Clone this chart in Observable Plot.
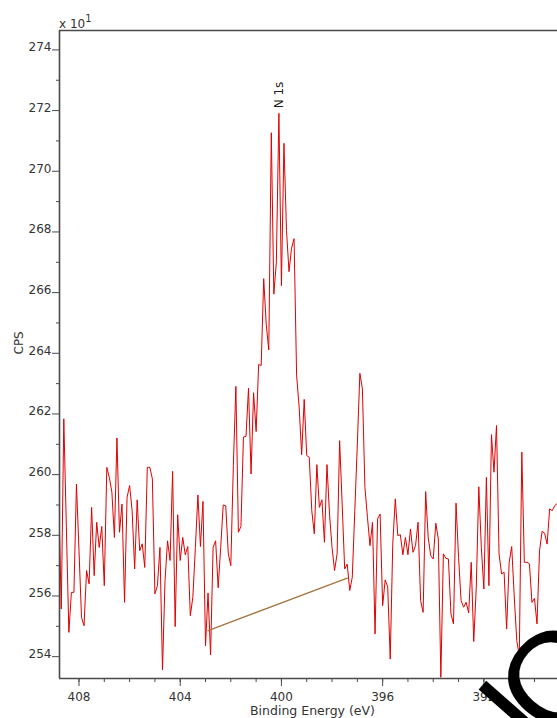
<!DOCTYPE html>
<html>
<head>
<meta charset="utf-8">
<script src="https://cdn.jsdelivr.net/npm/d3@7"></script>
<script src="https://cdn.jsdelivr.net/npm/@observablehq/plot@0.6"></script>
<style>
  html, body { margin: 0; padding: 0; background: #fff; }
  #chart { position: relative; width: 557px; height: 718px; overflow: hidden; }
</style>
</head>
<body>
<div id="chart"></div>
<script>
// N 1s region scan: binding energy (eV) and counts per second (in units of 10 CPS)
const energy = [
  408.8, 408.7, 408.6, 408.5, 408.4, 408.3, 408.2, 408.1, 408.0, 407.9,
  407.8, 407.7, 407.6, 407.5, 407.4, 407.3, 407.2, 407.1, 407.0, 406.9,
  406.8, 406.7, 406.6, 406.5, 406.4, 406.3, 406.2, 406.1, 406.0, 405.9,
  405.8, 405.7, 405.6, 405.5, 405.4, 405.3, 405.2, 405.1, 405.0, 404.9,
  404.8, 404.7, 404.6, 404.5, 404.4, 404.3, 404.2, 404.1, 404.0, 403.9,
  403.8, 403.7, 403.6, 403.5, 403.4, 403.3, 403.2, 403.1, 403.0, 402.9,
  402.8, 402.7, 402.6, 402.5, 402.4, 402.3, 402.2, 402.1, 402.0, 401.9,
  401.8, 401.7, 401.6, 401.5, 401.4, 401.3, 401.2, 401.1, 401.0, 400.9,
  400.8, 400.7, 400.6, 400.5, 400.4, 400.3, 400.2, 400.1, 400.0, 399.9,
  399.8, 399.7, 399.6, 399.5, 399.4, 399.3, 399.2, 399.1, 399.0, 398.9,
  398.8, 398.7, 398.6, 398.5, 398.4, 398.3, 398.2, 398.1, 398.0, 397.9,
  397.8, 397.7, 397.6, 397.5, 397.4, 397.3, 397.2, 397.1, 397.0, 396.9,
  396.8, 396.7, 396.6, 396.5, 396.4, 396.3, 396.2, 396.1, 396.0, 395.9,
  395.8, 395.7, 395.6, 395.5, 395.4, 395.3, 395.2, 395.1, 395.0, 394.9,
  394.8, 394.7, 394.6, 394.5, 394.4, 394.3, 394.2, 394.1, 394.0, 393.9,
  393.8, 393.7, 393.6, 393.5, 393.4, 393.3, 393.2, 393.1, 393.0, 392.9,
  392.8, 392.7, 392.6, 392.5, 392.4, 392.3, 392.2, 392.1, 392.0, 391.9,
  391.8, 391.7, 391.6, 391.5, 391.4, 391.3, 391.2, 391.1, 391.0, 390.9,
  390.8, 390.7, 390.6, 390.5, 390.4, 390.3, 390.2, 390.1, 390.0, 389.9,
  389.8, 389.7, 389.6, 389.5, 389.4, 389.3, 389.2, 389.1
];
const cps = [
  259.25, 255.57, 261.84, 258.30, 254.80, 256.12, 256.12, 259.69, 257.50, 255.30,
  255.02, 256.84, 256.40, 258.92, 256.67, 258.43, 257.60, 258.29, 256.34, 260.24,
  259.90, 259.42, 257.93, 261.21, 258.10, 259.03, 255.79, 259.25, 259.64, 258.81,
  256.89, 259.17, 257.49, 257.72, 256.94, 260.24, 260.24, 259.86, 256.07, 256.34,
  257.60, 253.56, 256.51, 257.82, 257.17, 260.11, 254.99, 258.68, 257.17, 257.93,
  257.36, 257.63, 255.35, 255.96, 257.60, 259.33, 257.63, 259.12, 254.36, 256.10,
  254.06, 257.60, 257.82, 256.27, 257.60, 259.00, 258.97, 257.40, 257.00, 260.30,
  262.91, 258.10, 258.29, 261.24, 261.26, 262.85, 260.02, 262.70, 261.42, 263.63,
  263.60, 266.46, 264.95, 264.11, 271.27, 265.95, 267.00, 271.91, 266.23, 270.92,
  268.05, 266.69, 267.46, 267.78, 263.28, 262.23, 260.66, 262.48, 260.63, 260.57,
  258.81, 258.05, 260.33, 258.92, 259.17, 257.77, 260.33, 258.70, 257.60, 256.84,
  257.39, 261.12, 259.03, 256.89, 257.05, 256.18, 256.62, 258.81, 261.01, 263.34,
  262.83, 259.58, 258.59, 257.66, 258.43, 254.75, 258.54, 258.70, 255.68, 256.53,
  256.30, 253.92, 257.71, 259.20, 257.99, 258.02, 257.36, 257.93, 257.36, 258.21,
  257.44, 257.66, 258.43, 255.85, 255.46, 259.44, 257.93, 257.33, 257.22, 258.40,
  257.88, 253.32, 257.39, 257.24, 257.22, 255.41, 255.08, 259.06, 257.27, 255.85,
  255.63, 255.79, 255.44, 257.11, 254.50, 256.29, 259.60, 257.60, 256.23, 259.91,
  256.34, 261.32, 260.08, 261.62, 257.39, 256.73, 256.78, 254.91, 257.11, 257.63,
  256.00, 254.53, 254.03, 260.74, 257.11, 257.11, 257.06, 255.79, 255.92, 255.08,
  257.49, 258.13, 258.07, 257.71, 258.87, 258.81, 258.98, 259.05
];

// Linear background under the peak
const bgEnergy = [402.9, 397.4];
const bgCps = [254.86, 256.59];

// Peak annotation
const peakName = "N 1s";
const peakEnergy = 400.1;

// Axis ticks and labels
const yMajor = [254, 256, 258, 260, 262, 264, 266, 268, 270, 272, 274];
const yMinor = [255, 257, 259, 261, 263, 265, 267, 269, 271, 273];
const xMajor = [408, 404, 400, 396, 392];
const xMinor = [408, 407, 406, 405, 404, 403, 402, 401, 400, 399, 398, 397, 396, 395, 394, 393, 392, 391, 390];
const xTitle = "Binding Energy (eV)";
const yTitle = "CPS";
const yScaleNote = "x 10";
const yScaleExp = "1";
const cornerMark = "lO";

const spectrum = energy.map((e, i) => ({e, v: cps[i]}));
const background = bgEnergy.map((e, i) => ({e, v: bgCps[i]}));
const peak = spectrum.find(d => Math.abs(d.e - peakEnergy) < 1e-6);

const xDomain = [408.77, 389.09];
const yDomain = [253.28, 274.64];
const axisColor = "#4a4a4a";
const textColor = "#333";
const font = "'DejaVu Sans', Verdana, sans-serif";

const chart = Plot.plot({
  width: 557,
  height: 718,
  marginLeft: 59,
  marginRight: 0,
  marginTop: 30,
  marginBottom: 40,
  style: {fontFamily: font, fontSize: "12px", color: textColor, background: "#fff", overflow: "visible"},
  x: {domain: xDomain, axis: null},
  y: {domain: yDomain, axis: null},
  marks: [
    // y axis: minor and major ticks, labels sitting on the major ticks
    Plot.axisY(yMinor, {anchor: "left", tickSize: 3, fill: "none", stroke: axisColor, label: null}),
    Plot.axisY(yMajor, {anchor: "left", tickSize: 7, fill: "none", stroke: axisColor, label: null}),
    Plot.text(yMajor, {y: d => d, frameAnchor: "left", text: d => String(d), textAnchor: "end", lineAnchor: "bottom", dx: -8, dy: 1.5, fill: textColor, fontSize: 12}),
    // x axis
    Plot.axisX(xMinor, {anchor: "bottom", tickSize: 4, fill: "none", stroke: axisColor, label: null}),
    Plot.axisX(xMajor, {anchor: "bottom", tickSize: 8, tickPadding: 6, fill: textColor, stroke: axisColor, fontSize: 12, label: null, tickFormat: d => String(d)}),
    // spectrum and background
    Plot.line(spectrum, {x: "e", y: "v", stroke: "#e00000", strokeWidth: 1, clip: true}),
    Plot.line(background, {x: "e", y: "v", stroke: "#a5753f", strokeWidth: 1.3}),
    Plot.text([peak], {x: "e", y: "v", text: () => peakName, rotate: -90, textAnchor: "start", dy: -5, fill: "#222", fontSize: 12}),
    // frame lines
    Plot.ruleX([xDomain[0]], {stroke: axisColor, strokeWidth: 1.6}),
    Plot.ruleY([yDomain[0]], {stroke: axisColor, strokeWidth: 1.5}),
    Plot.ruleY([yDomain[1]], {stroke: axisColor, strokeWidth: 1.3}),
    // axis titles
    Plot.text([xTitle], {frameAnchor: "bottom", lineAnchor: "bottom", dx: 4, dy: 36, fill: textColor, fontSize: 12.5}),
    Plot.text([yTitle], {frameAnchor: "left", rotate: -90, dx: -40, fill: textColor, fontSize: 12})
  ]
});

document.getElementById("chart").appendChild(chart);

const svg = d3.select(chart);

// Multiplier note above the y axis
const note = svg.append("text")
  .attr("x", 59)
  .attr("y", 28)
  .attr("text-anchor", "start")
  .attr("fill", textColor)
  .style("font-family", font)
  .style("font-size", "12px")
  .text(yScaleNote);
note.append("tspan")
  .attr("dy", -6)
  .style("font-size", "10px")
  .text(yScaleExp);

// Large black mark in the lower right corner
svg.append("text")
  .attr("transform", "translate(543.5,758.3) rotate(-48.6)")
  .attr("text-anchor", "start")
  .attr("fill", "#000")
  .attr("letter-spacing", -11)
  .style("font-family", "'Liberation Sans', Arial, sans-serif")
  .style("font-size", "130px")
  .text(cornerMark);
</script>
</body>
</html>
